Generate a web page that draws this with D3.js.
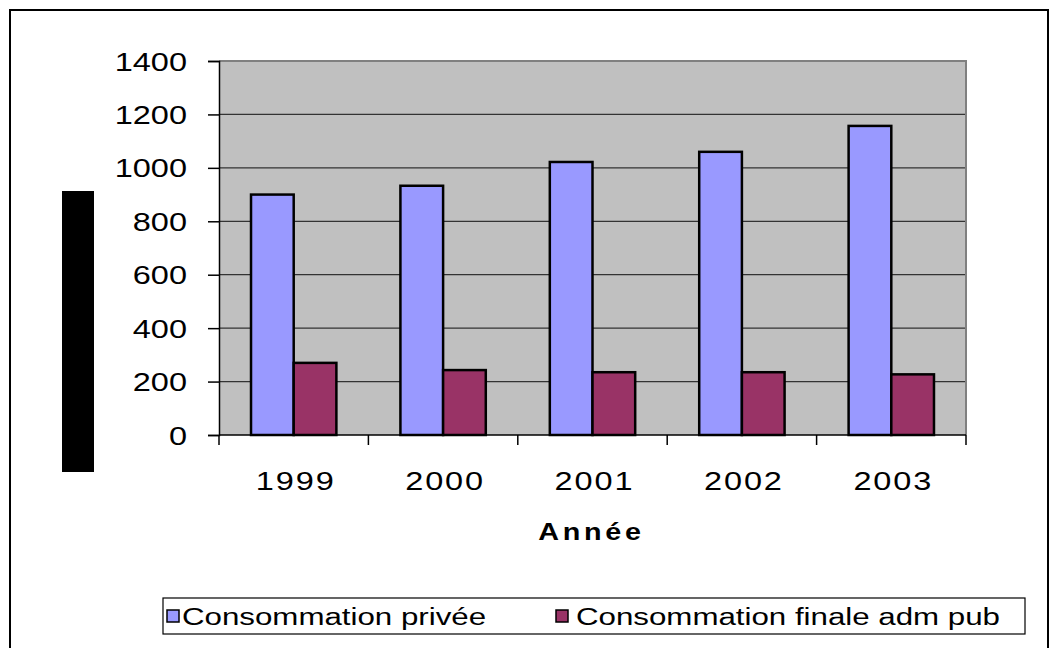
<!DOCTYPE html>
<html>
<head>
<meta charset="utf-8">
<script src="https://cdn.jsdelivr.net/npm/d3@7"></script>
<style>
  html, body { margin: 0; padding: 0; background: #fff; }
  svg { display: block; font-family: "Liberation Sans", Arial, sans-serif; }
</style>
</head>
<body>
<svg id="chart" width="1058" height="648"></svg>
<script>
// Data
const years = ["1999", "2000", "2001", "2002", "2003"];
const privee = [900, 933, 1022, 1060, 1157];
const admPub = [270, 243, 235, 235, 227];
const seriesNames = ["Consommation privée", "Consommation finale adm pub"];
const seriesColors = ["#9999FF", "#993366"];
const yTicks = [0, 200, 400, 600, 800, 1000, 1200, 1400];

// Text in this chart is drawn with a horizontal stretch
const SX = 1.25;
const SX_LEGEND = 1.36;

const svg = d3.select("#chart");

// Helper: stretched text anchored at (x, y)
function stretchedText(parent, x, y, str, size, anchor, extra, sx) {
  const t = parent.append("text")
    .attr("transform", `translate(${x},${y}) scale(${sx || SX},1)`)
    .attr("text-anchor", anchor)
    .attr("font-size", size)
    .attr("fill", "#000")
    .text(str);
  if (extra) extra(t);
  return t;
}

// Outer chart frame
svg.append("rect")
  .attr("x", 10).attr("y", 10)
  .attr("width", 1038).attr("height", 650)
  .attr("fill", "#fff").attr("stroke", "#000").attr("stroke-width", 2);

const plot = { left: 219, right: 966, top: 61, bottom: 435 };

const x = d3.scaleBand().domain(years).range([plot.left, plot.right]).paddingInner(0).paddingOuter(0);
const y = d3.scaleLinear().domain([0, 1400]).range([plot.bottom, plot.top]);

// Plot background
svg.append("rect")
  .attr("x", plot.left).attr("y", plot.top)
  .attr("width", plot.right - plot.left).attr("height", plot.bottom - plot.top)
  .attr("fill", "#C0C0C0");

// Gridlines
svg.append("g").selectAll("line").data(yTicks.filter(d => d > 0)).join("line")
  .attr("x1", plot.left).attr("x2", plot.right)
  .attr("y1", d => y(d)).attr("y2", d => y(d))
  .attr("stroke", "#333").attr("stroke-width", 1.2);

// Plot border (top/right in gray)
svg.append("path")
  .attr("d", `M${plot.left},${plot.top}H${plot.right}V${plot.bottom}`)
  .attr("fill", "none").attr("stroke", "#808080").attr("stroke-width", 2);

// Bars
const nSeries = 2;
const barW = x.bandwidth() / (nSeries + 1.5);
const groupOffset = (x.bandwidth() - nSeries * barW) / 2;
[privee, admPub].forEach((vals, si) => {
  svg.append("g").selectAll("rect").data(vals).join("rect")
    .attr("x", (d, i) => x(years[i]) + groupOffset + si * barW)
    .attr("y", d => y(d))
    .attr("width", barW)
    .attr("height", d => y(0) - y(d))
    .attr("fill", seriesColors[si])
    .attr("stroke", "#000").attr("stroke-width", 2.5);
});

// Y axis
const yAxis = d3.axisLeft(y).tickValues(yTicks).tickSize(11).tickFormat(d3.format("d"));
const gy = svg.append("g").attr("transform", `translate(${plot.left},0)`).call(yAxis);
gy.select(".domain").attr("stroke", "#000").attr("stroke-width", 1.5);
gy.selectAll(".tick line").attr("stroke", "#000").attr("stroke-width", 1.5);
gy.selectAll(".tick text").remove();
gy.selectAll(".tick").each(function(d) {
  stretchedText(d3.select(this), -32, 9, d3.format("d")(d), 26, "end");
});

// X axis with ticks between categories
const gx = svg.append("g").attr("transform", `translate(0,${plot.bottom})`);
gx.append("line").attr("x1", plot.left).attr("x2", plot.right)
  .attr("stroke", "#000").attr("stroke-width", 1.5);
const boundaries = years.map(d => x(d)).concat([x(years[years.length - 1]) + x.bandwidth()]);
gx.selectAll("line.tk").data(boundaries).join("line").attr("class", "tk")
  .attr("x1", d => d).attr("x2", d => d).attr("y1", 0).attr("y2", 10)
  .attr("stroke", "#000").attr("stroke-width", 1.5);
years.forEach(d => {
  stretchedText(gx, x(d) + x.bandwidth() / 2 + 2, 55, d, 26, "middle",
    t => t.attr("letter-spacing", 1.5));
});

// X axis title
stretchedText(svg, (plot.left + plot.right) / 2 - 1, 540, "Année", 23, "middle",
  t => t.attr("font-weight", "bold").attr("letter-spacing", 3));

// Y axis title block
svg.append("rect").attr("x", 62).attr("y", 191).attr("width", 32).attr("height", 281).attr("fill", "#000");

// Legend
const lg = svg.append("g");
lg.append("rect").attr("x", 163).attr("y", 598).attr("width", 862).attr("height", 36)
  .attr("fill", "#fff").attr("stroke", "#000").attr("stroke-width", 1.2);
const legendX = [167, 556];
const legendTextX = [182, 576];
seriesNames.forEach((name, i) => {
  lg.append("rect").attr("x", legendX[i]).attr("y", 610).attr("width", 12).attr("height", 12)
    .attr("fill", seriesColors[i]).attr("stroke", "#000").attr("stroke-width", 1.5);
  stretchedText(lg, legendTextX[i], 625, name, 23, "start", null, SX_LEGEND);
});
</script>
</body>
</html>
